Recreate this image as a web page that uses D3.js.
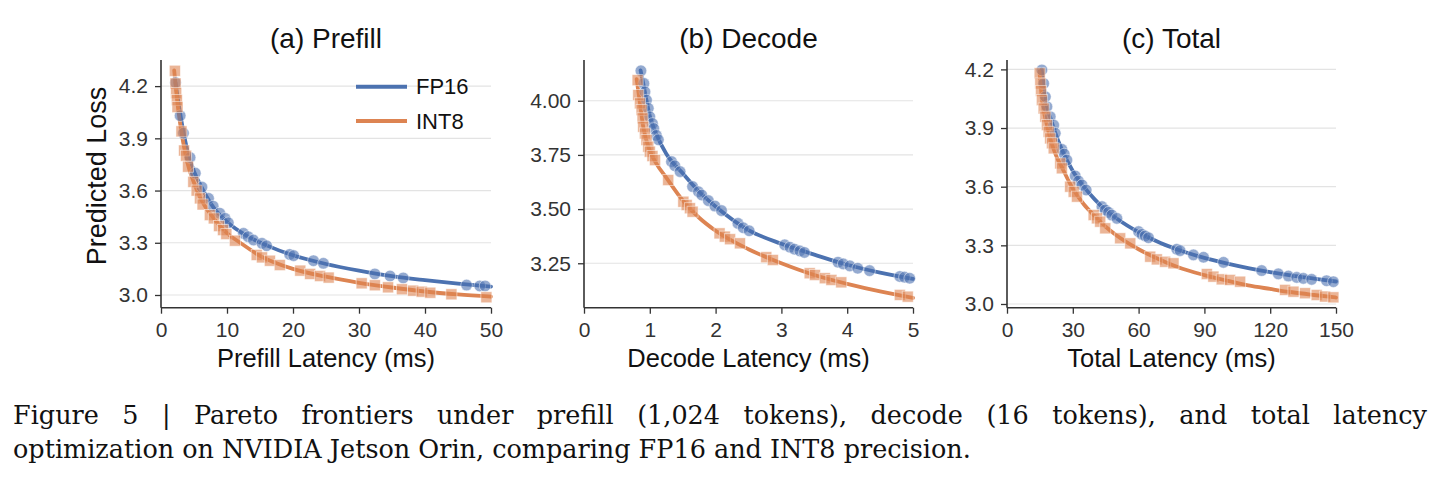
<!DOCTYPE html>
<html>
<head>
<meta charset="utf-8">
<script src="https://cdn.jsdelivr.net/npm/d3@7"></script>
<style>
  html, body { margin: 0; padding: 0; background: #ffffff; }
  svg { display: block; }
</style>
</head>
<body>
<svg id="chart" width="1443" height="489"></svg>
<script>
// ---------------- DATA ----------------
const panelTitles = ["(a) Prefill", "(b) Decode", "(c) Total"];
const xLabels = ["Prefill Latency (ms)", "Decode Latency (ms)", "Total Latency (ms)"];
const yLabel = "Predicted Loss";
const seriesNames = ["FP16", "INT8"];

const xTicksA = [0, 10, 20, 30, 40, 50];
const yTicksA = [3.0, 3.3, 3.6, 3.9, 4.2];
const xTicksB = [0, 1, 2, 3, 4, 5];
const yTicksB = [3.25, 3.50, 3.75, 4.00];
const xTicksC = [0, 30, 60, 90, 120, 150];
const yTicksC = [3.0, 3.3, 3.6, 3.9, 4.2];

// (a) Prefill — scatter points [latency, loss]
const fp16PointsA = [[2.2,4.22],[2.9,4.03],[3.4,3.93],[4.4,3.79],[5.2,3.70],[6.2,3.62],[7.2,3.555],[7.9,3.51],
  [8.9,3.47],[9.7,3.44],[10.2,3.415],[12.5,3.354],[13.2,3.335],[14.0,3.316],[15.3,3.297],[16.0,3.283],
  [19.5,3.233],[20.1,3.226],[23.1,3.197],[24.6,3.182],[32.4,3.121],[34.7,3.109],[36.7,3.098],
  [46.3,3.057],[48.3,3.052],[49.1,3.052]];
const int8PointsA = [[2.1,4.288],[2.2,4.215],[2.3,4.16],[2.4,4.12],[2.5,4.08],[3.1,3.94],[3.5,3.83],[3.8,3.80],
  [4.1,3.737],[4.9,3.65],[5.4,3.60],[5.9,3.555],[6.3,3.52],[7.4,3.459],[8.0,3.44],[8.8,3.396],[9.4,3.373],
  [9.9,3.35],[11.2,3.312],[14.5,3.23],[15.3,3.216],[16.5,3.197],[18.0,3.172],[21.1,3.14],[22.6,3.121],
  [24.1,3.109],[25.4,3.10],[30.4,3.067],[32.4,3.056],[34.4,3.044],[36.5,3.033],[38.2,3.025],[39.5,3.019],
  [40.8,3.013],[44.0,3.004],[49.3,2.987]];
// (a) fitted frontier curves
const fp16CurveA = [[2.2,4.22],[3,4.02],[4,3.83],[5,3.71],[6,3.63],[8,3.50],[10,3.42],[13,3.34],[16,3.285],
  [20,3.228],[25,3.178],[30,3.14],[35,3.108],[40,3.085],[45,3.065],[50,3.048]];
const int8CurveA = [[2.0,4.29],[2.5,4.10],[3,3.96],[4,3.76],[5,3.645],[6,3.555],[8,3.44],[10,3.355],[12,3.30],
  [15,3.225],[20,3.15],[25,3.105],[30,3.07],[35,3.043],[40,3.02],[45,3.003],[50,2.99]];

// (b) Decode
const fp16PointsB = [[0.865,4.138],[0.91,4.08],[0.926,4.041],[0.95,4.003],[0.977,3.965],[1.0,3.926],[1.04,3.895],
  [1.06,3.872],[1.10,3.84],[1.13,3.82],[1.33,3.719],[1.38,3.70],[1.46,3.673],[1.65,3.604],[1.74,3.58],
  [1.79,3.565],[1.89,3.539],[1.99,3.514],[2.09,3.493],[2.34,3.434],[2.42,3.414],[2.51,3.40],[3.05,3.335],
  [3.13,3.324],[3.20,3.315],[3.28,3.307],[3.35,3.30],[3.86,3.255],[3.94,3.247],[4.04,3.238],[4.16,3.227],
  [4.34,3.216],[4.80,3.189],[4.87,3.186],[4.95,3.181]];
const int8PointsB = [[0.815,4.095],[0.825,4.026],[0.85,3.988],[0.875,3.957],[0.89,3.919],[0.90,3.88],[0.926,3.849],
  [0.95,3.819],[0.977,3.788],[1.0,3.765],[1.04,3.745],[1.08,3.726],[1.28,3.634],[1.51,3.534],[1.56,3.519],
  [1.61,3.504],[1.65,3.488],[2.06,3.388],[2.14,3.373],[2.22,3.361],[2.37,3.342],[2.77,3.278],[2.87,3.265],
  [3.43,3.204],[3.51,3.196],[3.66,3.181],[3.76,3.173],[3.91,3.162],[4.80,3.104],[4.92,3.096]];
const fp16CurveB = [[0.86,4.14],[0.9,4.08],[1.0,3.93],[1.1,3.845],[1.25,3.755],[1.5,3.665],[1.75,3.58],[2.0,3.512],
  [2.5,3.403],[3.0,3.34],[3.5,3.29],[4.0,3.243],[4.5,3.207],[5.0,3.178]];
const int8CurveB = [[0.8,4.10],[0.85,3.99],[0.9,3.88],[1.0,3.77],[1.1,3.71],[1.25,3.645],[1.5,3.54],[1.75,3.46],
  [2.0,3.40],[2.5,3.315],[3.0,3.25],[3.5,3.196],[4.0,3.155],[4.5,3.12],[5.0,3.09]];

// (c) Total
const fp16PointsC = [[15.9,4.197],[16.7,4.128],[17.5,4.06],[18.2,4.009],[19.7,3.958],[21.3,3.915],[22.0,3.873],
  [25.0,3.791],[26.1,3.767],[27.3,3.736],[31.1,3.655],[32.6,3.629],[34.2,3.609],[36.1,3.583],[43.3,3.498],
  [44.8,3.481],[46.3,3.469],[47.8,3.455],[50.1,3.438],[60.0,3.37],[61.5,3.356],[63.0,3.348],[64.5,3.339],
  [77.4,3.28],[78.9,3.273],[85.0,3.251],[89.6,3.239],[98.7,3.213],[116.1,3.171],[123.7,3.154],[128.3,3.143],
  [132.1,3.136],[135.1,3.131],[138.9,3.126],[145.7,3.119],[148.8,3.114]];
const int8PointsC = [[14.9,4.18],[15.2,4.128],[15.5,4.09],[15.9,4.043],[16.7,4.0],[17.5,3.958],[18.2,3.915],
  [19.0,3.881],[19.7,3.847],[20.5,3.822],[21.3,3.796],[24.3,3.719],[25.0,3.694],[28.8,3.60],[30.4,3.574],
  [31.9,3.549],[39.5,3.455],[41.0,3.438],[42.5,3.421],[44.8,3.387],[51.6,3.336],[56.2,3.31],[65.3,3.242],
  [68.3,3.228],[72.1,3.216],[75.9,3.208],[91.1,3.153],[94.1,3.14],[97.9,3.126],[101.7,3.123],[106.3,3.114],
  [126.8,3.072],[130.6,3.063],[135.9,3.055],[141.2,3.046],[145.0,3.038],[148.8,3.034]];
const fp16CurveC = [[15.8,4.2],[17,4.1],[18,4.02],[20,3.945],[22,3.875],[25,3.79],[30,3.68],[35,3.60],[40,3.535],
  [45,3.48],[50,3.437],[60,3.367],[70,3.312],[80,3.27],[90,3.236],[100,3.208],[110,3.184],[120,3.163],
  [130,3.145],[140,3.13],[150,3.115]];
const int8CurveC = [[14.8,4.19],[16,4.04],[18,3.925],[20,3.835],[22,3.77],[25,3.70],[30,3.59],[35,3.51],[40,3.45],
  [45,3.395],[50,3.35],[60,3.28],[70,3.225],[80,3.18],[90,3.148],[100,3.12],[110,3.095],[120,3.077],
  [130,3.06],[140,3.046],[150,3.033]];

const captionLines = [
  "Figure 5 | Pareto frontiers under prefill (1,024 tokens), decode (16 tokens), and total latency",
  "optimization on NVIDIA Jetson Orin, comparing FP16 and INT8 precision."
];

// ---------------- LAYOUT / STYLE ----------------
const colors = { FP16: "#4C72B0", INT8: "#DD8452" };
const panels = [
  { title: panelTitles[0], xLabel: xLabels[0], xDomain: [0, 50], yDomain: [2.927, 4.35], xTicks: xTicksA, yTicks: yTicksA,
    yFmt: d3.format(".1f"), left: 161, right: 491, fp: fp16PointsA, i8: int8PointsA, fpC: fp16CurveA, i8C: int8CurveA, legend: true, ylabel: true },
  { title: panelTitles[1], xLabel: xLabels[1], xDomain: [0, 5], yDomain: [3.045, 4.188], xTicks: xTicksB, yTicks: yTicksB,
    yFmt: d3.format(".2f"), left: 584, right: 913, fp: fp16PointsB, i8: int8PointsB, fpC: fp16CurveB, i8C: int8CurveB },
  { title: panelTitles[2], xLabel: xLabels[2], xDomain: [0, 150], yDomain: [2.981, 4.248], xTicks: xTicksC, yTicks: yTicksC,
    yFmt: d3.format(".1f"), left: 1007, right: 1336, fp: fp16PointsC, i8: int8PointsC, fpC: fp16CurveC, i8C: int8CurveC }
];
const plotTop = 60, plotBottom = 307.7;
const sans = "'Liberation Sans', Arial, Helvetica, sans-serif";
const axisColor = "#333333";

const svg = d3.select("#chart");

panels.forEach(p => {
  const x = d3.scaleLinear().domain(p.xDomain).range([p.left, p.right]);
  const y = d3.scaleLinear().domain(p.yDomain).range([plotBottom, plotTop]);
  const g = svg.append("g");

  // gridlines
  g.append("g").selectAll("line").data(p.yTicks).join("line")
    .attr("x1", p.left).attr("x2", p.right)
    .attr("y1", d => y(d)).attr("y2", d => y(d))
    .attr("stroke", "#e3e3e3").attr("stroke-width", 1.2);

  // lines
  const line = d3.line().x(d => x(d[0])).y(d => y(d[1])).curve(d3.curveMonotoneX);
  g.append("path").datum(p.fpC).attr("d", line).attr("fill", "none")
    .attr("stroke", colors.FP16).attr("stroke-width", 3.8).attr("stroke-linecap", "round");
  g.append("path").datum(p.i8C).attr("d", line).attr("fill", "none")
    .attr("stroke", colors.INT8).attr("stroke-width", 3.8).attr("stroke-linecap", "round");

  // scatter
  g.append("g").selectAll("circle").data(p.fp).join("circle")
    .attr("cx", d => x(d[0])).attr("cy", d => y(d[1])).attr("r", 5.8)
    .attr("fill", colors.FP16).attr("fill-opacity", 0.6)
    .attr("stroke", "#ffffff").attr("stroke-opacity", 0.6).attr("stroke-width", 0.8);
  const s = 11;
  g.append("g").selectAll("rect").data(p.i8).join("rect")
    .attr("x", d => x(d[0]) - s / 2).attr("y", d => y(d[1]) - s / 2)
    .attr("width", s).attr("height", s)
    .attr("fill", colors.INT8).attr("fill-opacity", 0.6)
    .attr("stroke", "#ffffff").attr("stroke-opacity", 0.6).attr("stroke-width", 0.8);

  // axes
  const xAxis = d3.axisBottom(x).tickValues(p.xTicks).tickFormat(d3.format("d")).tickSize(6).tickPadding(8.5);
  const yAxis = d3.axisLeft(y).tickValues(p.yTicks).tickFormat(p.yFmt).tickSize(6).tickPadding(7);
  const xg = g.append("g").attr("transform", `translate(0,${plotBottom})`).call(xAxis);
  const yg = g.append("g").attr("transform", `translate(${p.left},0)`).call(yAxis);
  [xg, yg].forEach(a => {
    a.select(".domain").attr("stroke", axisColor).attr("stroke-width", 1.6);
    a.selectAll(".tick line").attr("stroke", axisColor).attr("stroke-width", 1.3);
    a.selectAll(".tick text").attr("fill", "#333333").style("font-family", sans).style("font-size", "21px");
  });
  xg.select(".domain").attr("d", `M${p.left},0H${p.right}`);
  yg.select(".domain").attr("d", `M0,${plotBottom}V${plotTop}`);

  // title
  g.append("text").attr("x", (p.left + p.right) / 2).attr("y", 48)
    .attr("text-anchor", "middle").style("font-family", sans).style("font-size", "28px")
    .attr("fill", "#111").text(p.title);
  // x label
  g.append("text").attr("x", (p.left + p.right) / 2).attr("y", 367)
    .attr("text-anchor", "middle").style("font-family", sans).style("font-size", "25.5px")
    .attr("fill", "#111").text(p.xLabel);

  if (p.ylabel) {
    g.append("text").attr("transform", `translate(106,176) rotate(-90)`)
      .attr("text-anchor", "middle").style("font-family", sans).style("font-size", "27px")
      .attr("fill", "#111").text(yLabel);
  }

  if (p.legend) {
    const lg = g.append("g");
    const items = [{ name: seriesNames[0], y: 86.7 }, { name: seriesNames[1], y: 121 }];
    items.forEach(it => {
      lg.append("line").attr("x1", 356).attr("x2", 407).attr("y1", it.y).attr("y2", it.y)
        .attr("stroke", colors[it.name]).attr("stroke-width", 4);
      lg.append("text").attr("x", 416).attr("y", it.y).attr("dy", "0.35em")
        .style("font-family", sans).style("font-size", "22px").attr("fill", "#111").text(it.name);
    });
  }
});

// caption — sized so the last line spans its width in the reference; first line justified
const serif = "'DejaVu Serif', 'Liberation Serif', serif";
const probe = svg.append("text").style("font-family", serif).style("font-size", "26px").text(captionLines[1]);
const probeW = probe.node().getComputedTextLength();
probe.remove();
const capSize = Math.min(28, Math.max(22, 26 * 958 / probeW));
function justifiedLine(text, x0, y0, width) {
  const words = text.split(" ");
  const t = svg.append("text").attr("y", y0)
    .style("font-family", serif).style("font-size", capSize + "px").attr("fill", "#111");
  const spans = words.map(w => t.append("tspan").text(w));
  const widths = spans.map(sp => sp.node().getComputedTextLength());
  const total = d3.sum(widths);
  const gap = (width - total) / (words.length - 1);
  let cx = x0;
  spans.forEach((sp, i) => { sp.attr("x", cx); cx += widths[i] + gap; });
}
justifiedLine(captionLines[0], 13, 424, 1414);
svg.append("text").attr("x", 13).attr("y", 458)
  .style("font-family", serif).style("font-size", capSize + "px").attr("fill", "#111")
  .text(captionLines[1]);
</script>
</body>
</html>
